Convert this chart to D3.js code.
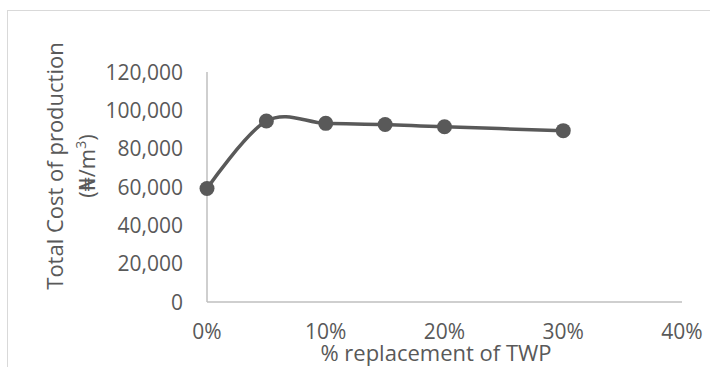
<!DOCTYPE html>
<html>
<head>
<meta charset="utf-8">
<script src="https://cdn.jsdelivr.net/npm/d3@7"></script>
<style>
  html, body { margin: 0; padding: 0; background: #fff; }
  svg { display: block; }
  text { font-family: "Open Sans", "DejaVu Sans", sans-serif; fill: #595959; }
</style>
</head>
<body>
<svg id="chart" width="710" height="367"></svg>
<script>
// Total production cost at each TWP replacement level
const replacement = [0, 5, 10, 15, 20, 30];           // % replacement of TWP
const totalCost = [59200, 94400, 93200, 92600, 91400, 89400]; // ₦/m³
const xTicks = [0, 10, 20, 30, 40];
const yTicks = [0, 20000, 40000, 60000, 80000, 100000, 120000];

const svg = d3.select("#chart");
const grey = "#595959";

// chart area frame
svg.append("rect")
  .attr("x", 7.5).attr("y", 10.5)
  .attr("width", 720).attr("height", 380)
  .attr("fill", "none").attr("stroke", "#d9d9d9").attr("stroke-width", 1);

const x = d3.scaleLinear().domain([0, 40]).range([207, 682]);
const y = d3.scaleLinear().domain([0, 120000]).range([302, 72]);

// axes lines
svg.append("line")
  .attr("x1", x(0)).attr("x2", x(0)).attr("y1", y(120000)).attr("y2", y(0))
  .attr("stroke", "#bfbfbf").attr("stroke-width", 1.5);
svg.append("line")
  .attr("x1", x(0)).attr("x2", x(40)).attr("y1", y(0)).attr("y2", y(0))
  .attr("stroke", "#bfbfbf").attr("stroke-width", 1.5);

// y tick labels
const fmt = d3.format(",");
svg.append("g").selectAll("text").data(yTicks).join("text")
  .attr("x", 183).attr("y", d => y(d))
  .attr("dy", "0.36em")
  .attr("text-anchor", "end")
  .attr("font-size", 21)
  .text(d => fmt(d));

// x tick labels
svg.append("g").selectAll("text").data(xTicks).join("text")
  .attr("x", d => x(d)).attr("y", 339)
  .attr("text-anchor", "middle")
  .attr("font-size", 21)
  .text(d => d + "%");

// axis titles
svg.append("text")
  .attr("x", 436).attr("y", 361)
  .attr("text-anchor", "middle")
  .attr("font-size", 22)
  .text("% replacement of TWP");

const yTitle = svg.append("text")
  .attr("transform", "translate(63,166) rotate(-90)")
  .attr("text-anchor", "middle")
  .attr("font-size", 22);
yTitle.append("tspan").attr("x", 0).attr("dy", 0).text("Total Cost of production");
const l2 = yTitle.append("tspan").attr("x", 0).attr("dy", 32).text("(₦/m");
l2.append("tspan").attr("dy", -9).attr("font-size", 14).text("3");
yTitle.append("tspan").attr("dy", 9).text(")");

// smoothed series line
const data = replacement.map((r, i) => ({ r, v: totalCost[i] }));
svg.append("path")
  .datum(data)
  .attr("fill", "none")
  .attr("stroke", grey)
  .attr("stroke-width", 3.5)
  .attr("stroke-linejoin", "round")
  .attr("d", d3.line().x(d => x(d.r)).y(d => y(d.v)).curve(d3.curveCardinal.tension(0)));

// markers
svg.append("g").selectAll("circle").data(data).join("circle")
  .attr("cx", d => x(d.r)).attr("cy", d => y(d.v))
  .attr("r", 7.5)
  .attr("fill", grey);
</script>
</body>
</html>
